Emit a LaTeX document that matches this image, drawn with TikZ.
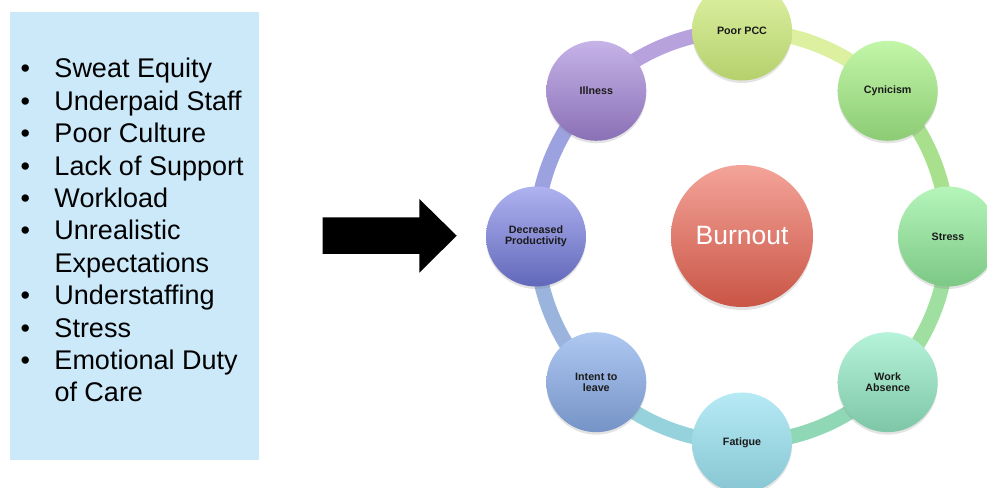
\documentclass[tikz,border=0pt]{standalone}
\usepackage{fontspec}
\setmainfont{Liberation Sans}
\usetikzlibrary{shadows, backgrounds}
\definecolor{jet}{HTML}{1A1A1A}
\definecolor{listblue}{HTML}{CCE9FA}
% node shading (top / bottom) and ring segment colours
\definecolor{pcc-top}{HTML}{DFF3A6}
\definecolor{pcc-bot}{HTML}{B5D06C}
\definecolor{pcc-ring}{HTML}{DDF0A0}
\definecolor{cyn-top}{HTML}{C2F6A8}
\definecolor{cyn-bot}{HTML}{8CCB74}
\definecolor{cyn-ring}{HTML}{A9E08E}
\definecolor{str-top}{HTML}{B5F5BA}
\definecolor{str-bot}{HTML}{7CC885}
\definecolor{str-ring}{HTML}{9FE0A0}
\definecolor{abs-top}{HTML}{B6F3DA}
\definecolor{abs-bot}{HTML}{7DC6A6}
\definecolor{abs-ring}{HTML}{90D8B5}
\definecolor{fat-top}{HTML}{B6EAF5}
\definecolor{fat-bot}{HTML}{86C6D2}
\definecolor{fat-ring}{HTML}{96D2DC}
\definecolor{int-top}{HTML}{AFC8F2}
\definecolor{int-bot}{HTML}{7593C6}
\definecolor{int-ring}{HTML}{9AB4DE}
\definecolor{dec-top}{HTML}{AEB2F0}
\definecolor{dec-bot}{HTML}{6268BA}
\definecolor{dec-ring}{HTML}{9CA2DF}
\definecolor{ill-top}{HTML}{C6B3E8}
\definecolor{ill-bot}{HTML}{8A70B6}
\definecolor{ill-ring}{HTML}{B8A2DE}
\definecolor{burn-top}{HTML}{F4A49A}
\definecolor{burn-bot}{HTML}{C95545}

\begin{document}
\begin{tikzpicture}[x=1pt, y=1pt,
      stage/.style={circle, minimum size=100pt, inner sep=0pt, align=center,
                    text=jet, font=\fontsize{10.7}{11}\selectfont\bfseries,
                    drop shadow={shadow xshift=0pt, shadow yshift=-2.5pt, opacity=0.22}},
      core/.style={circle, minimum size=142pt, inner sep=0pt, text=white,
                   font=\fontsize{26.5}{30}\selectfont,
                   drop shadow={shadow xshift=0pt, shadow yshift=-3pt, opacity=0.22}},
      ring/.style={line width=15pt, looseness=0.885}]
    \useasboundingbox (0,0) rectangle (987,487);

    % list of causes (left panel)
    \node[fill=listblue, anchor=south west, inner sep=0pt,
          minimum width=249.4pt, minimum height=448pt] (listbox) at (9.3,27) {};
    \node[anchor=base west, inner sep=0pt, align=left,
          font=\fontsize{27}{32.4}\selectfont] (causes) at (20.3,409) {%
      \begin{tabular}[t]{@{}p{34pt}@{}l@{}}
        \textbullet & Sweat Equity\\
        \textbullet & Underpaid Staff\\
        \textbullet & Poor Culture\\
        \textbullet & Lack of Support\\
        \textbullet & Workload\\
        \textbullet & Unrealistic\\
                    & Expectations\\
        \textbullet & Understaffing\\
        \textbullet & Stress\\
        \textbullet & Emotional Duty\\
                    & of Care
      \end{tabular}};

    % block arrow
    \fill[black] (322.7,269.7) -- (419.3,269.7) -- (419.3,288) -- (456.7,251.3)
                 -- (419.3,214.3) -- (419.3,233) -- (322.7,233) -- cycle;

    % centre
    \node[core, top color=burn-top, bottom color=burn-bot] (burnout) at (742,251) {Burnout};

    % ring of stages (clockwise from the top)
    \node[stage, top color=pcc-top, bottom color=pcc-bot] (pcc) at (742,456.5) {Poor PCC};
    \node[stage, top color=cyn-top, bottom color=cyn-bot] (cynicism) at (887.7,396.2) {Cynicism};
    \node[stage, top color=str-top, bottom color=str-bot] (stress) at (948,250.5) {Stress};
    \node[stage, top color=abs-top, bottom color=abs-bot] (absence) at (887.7,104.8) {Work\\Absence};
    \node[stage, top color=fat-top, bottom color=fat-bot] (fatigue) at (742,44.5) {Fatigue};
    \node[stage, top color=int-top, bottom color=int-bot] (intent) at (596.3,104.8) {Intent to\\leave};
    \node[stage, top color=dec-top, bottom color=dec-bot] (decreased) at (536,250.5) {Decreased\\Productivity};
    \node[stage, top color=ill-top, bottom color=ill-bot] (illness) at (596.3,396.2) {Illness};

    % ring band behind the stages
    \begin{scope}[on background layer]
      \draw[ring, draw=pcc-ring] (pcc.center) to[bend left=22.5] (cynicism.center);
      \draw[ring, draw=cyn-ring] (cynicism.center) to[bend left=22.5] (stress.center);
      \draw[ring, draw=str-ring] (stress.center) to[bend left=22.5] (absence.center);
      \draw[ring, draw=abs-ring] (absence.center) to[bend left=22.5] (fatigue.center);
      \draw[ring, draw=fat-ring] (fatigue.center) to[bend left=22.5] (intent.center);
      \draw[ring, draw=int-ring] (intent.center) to[bend left=22.5] (decreased.center);
      \draw[ring, draw=dec-ring] (decreased.center) to[bend left=22.5] (illness.center);
      \draw[ring, draw=ill-ring] (illness.center) to[bend left=22.5] (pcc.center);
    \end{scope}
\end{tikzpicture}
\end{document}
